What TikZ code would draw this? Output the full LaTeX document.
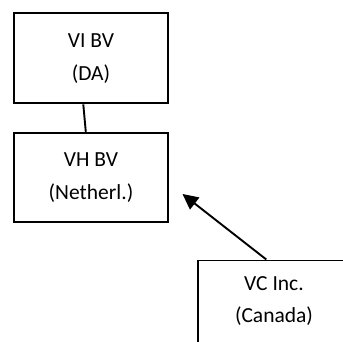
\documentclass[tikz,border=0pt]{standalone}
\usepackage{fontspec}
\setmainfont{Carlito}
\usetikzlibrary{arrows.meta,calc}
\begin{document}
\begin{tikzpicture}[x=1pt,y=1pt,
  box/.style={draw=black,line width=1.9pt,minimum width=153.5pt,minimum height=90pt,anchor=north west,inner sep=0pt},
  lbl/.style={align=center,font=\fontsize{21.5}{32.5}\selectfont,inner sep=0pt},
  conn/.style={line width=1.9pt,black}]
\clip (0,0) rectangle (343,-342);
\useasboundingbox (0,0) rectangle (343,-342);
\node[box] (vi) at (13.3,-12.5) {};
\node[lbl] (vitext) at (vi.center) {VI BV\\(DA)};
\node[box,minimum height=89pt] (vh) at (13.3,-132) {};
\node[lbl] (vhtext) at (vh.center) {VH BV\\(Netherl.)};
\node[box,minimum width=170pt,minimum height=110pt] (vc) at (197.3,-259.5) {};
\node[lbl] (vctext) at (274,-301) {VC Inc.\\(Canada)};
\coordinate (a1) at ($(vi.south west)+(70,0)$);
\coordinate (a2) at ($(vh.north west)+(72.5,0)$);
\draw[conn] (a1) -- (a2);
\coordinate (vcstart) at ($(vc.north west)+(69,0)$);
\coordinate (tipend) at (182.5,-194);
\draw[conn,-{Triangle[length=15.5pt,width=15pt]}] (vcstart) -- (tipend);
\end{tikzpicture}
\end{document}
